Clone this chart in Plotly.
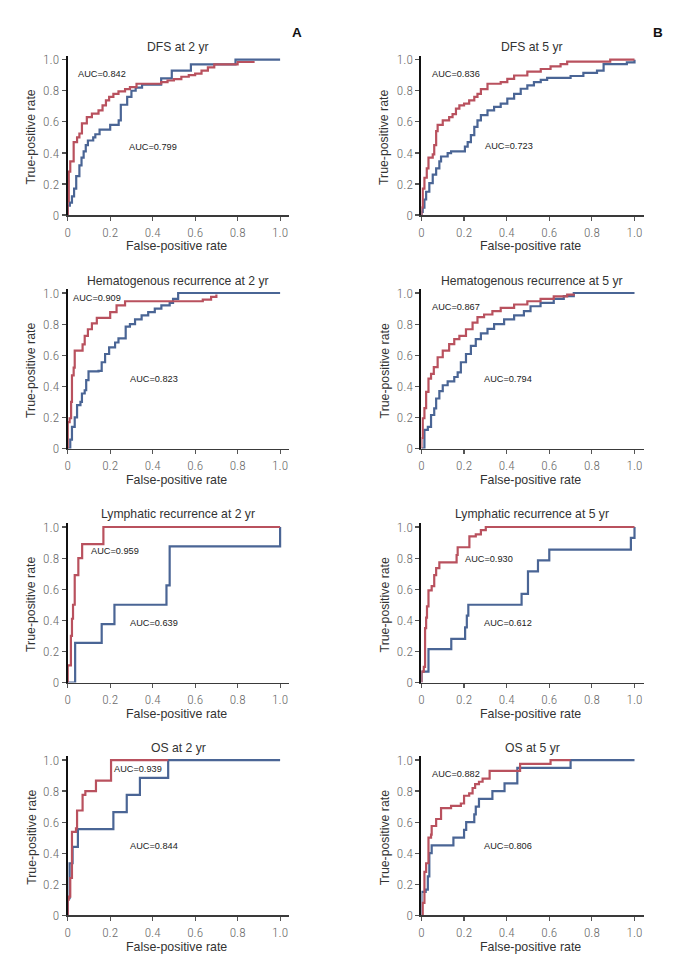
import plotly.graph_objects as go

# ---------------- data ----------------
tick_vals = [0, 0.2, 0.4, 0.6, 0.8, 1.0]
tick_text = ["0", "0.2", "0.4", "0.6", "0.8", "1.0"]

titles = ["DFS at 2 yr", "DFS at 5 yr",
          "Hematogenous recurrence at 2 yr", "Hematogenous recurrence at 5 yr",
          "Lymphatic recurrence at 2 yr", "Lymphatic recurrence at 5 yr",
          "OS at 2 yr", "OS at 5 yr"]

auc_red = ["AUC=0.842", "AUC=0.836", "AUC=0.909", "AUC=0.867",
           "AUC=0.959", "AUC=0.930", "AUC=0.939", "AUC=0.882"]
auc_blue = ["AUC=0.799", "AUC=0.723", "AUC=0.823", "AUC=0.794",
            "AUC=0.639", "AUC=0.612", "AUC=0.844", "AUC=0.806"]

# DFS 2 yr
dfs2_red_fpr = [0, 0, 0.005, 0.012, 0.028, 0.044, 0.055, 0.067, 0.09, 0.114, 0.145, 0.164, 0.18, 0.195,
                0.215, 0.239, 0.27, 0.293, 0.324, 0.44, 0.47, 0.5, 0.535, 0.57, 0.6, 0.63, 0.66, 0.69,
                0.8, 0.88]
dfs2_red_tpr = [0, 0.09, 0.28, 0.345, 0.47, 0.5, 0.525, 0.59, 0.63, 0.653, 0.674, 0.706, 0.738, 0.76,
                0.78, 0.796, 0.81, 0.823, 0.845, 0.855, 0.866, 0.875, 0.89, 0.9, 0.91, 0.93, 0.95, 0.97,
                0.985, 0.985]
dfs2_blue_fpr = [0, 0, 0.01, 0.02, 0.03, 0.04, 0.055, 0.065, 0.075, 0.085, 0.095, 0.12, 0.13, 0.15, 0.2,
                 0.24, 0.25, 0.28, 0.3, 0.32, 0.35, 0.44, 0.49, 0.58, 0.79, 1.0]
dfs2_blue_tpr = [0, 0.06, 0.08, 0.12, 0.17, 0.25, 0.32, 0.37, 0.41, 0.45, 0.48, 0.5, 0.52, 0.55, 0.58,
                 0.61, 0.71, 0.76, 0.8, 0.82, 0.84, 0.88, 0.93, 0.97, 1.0, 1.0]

# DFS 5 yr
dfs5_red_fpr = [0, 0, 0.006, 0.014, 0.025, 0.033, 0.053, 0.06, 0.069, 0.076, 0.1, 0.13, 0.146, 0.162,
                0.178, 0.2, 0.224, 0.248, 0.263, 0.279, 0.31, 0.372, 0.403, 0.435, 0.497, 0.56, 0.606,
                0.653, 0.684, 0.886, 1.0]
dfs5_red_tpr = [0, 0.05, 0.17, 0.24, 0.3, 0.37, 0.39, 0.45, 0.54, 0.58, 0.61, 0.63, 0.65, 0.685, 0.706,
                0.717, 0.738, 0.76, 0.78, 0.81, 0.845, 0.855, 0.877, 0.898, 0.923, 0.94, 0.957, 0.972,
                0.987, 1.0, 1.0]
dfs5_blue_fpr = [0, 0, 0.006, 0.014, 0.022, 0.037, 0.053, 0.069, 0.084, 0.092, 0.123, 0.139, 0.204,
                 0.217, 0.232, 0.248, 0.263, 0.279, 0.31, 0.341, 0.372, 0.403, 0.435, 0.466, 0.497,
                 0.528, 0.56, 0.59, 0.7, 0.76, 0.824, 0.855, 0.964, 1.0]
dfs5_blue_tpr = [0, 0.02, 0.047, 0.1, 0.15, 0.206, 0.26, 0.3, 0.345, 0.377, 0.398, 0.41, 0.44, 0.47,
                 0.515, 0.568, 0.61, 0.643, 0.674, 0.696, 0.717, 0.749, 0.78, 0.813, 0.834, 0.855,
                 0.87, 0.883, 0.895, 0.915, 0.93, 0.972, 0.983, 1.0]

# Hematogenous recurrence 2 yr
hem2_red_fpr = [0, 0, 0.009, 0.016, 0.02, 0.028, 0.033, 0.07, 0.08, 0.095, 0.114, 0.137, 0.2, 0.23,
                0.27, 0.636, 0.675, 0.7]
hem2_red_tpr = [0, 0.17, 0.195, 0.3, 0.47, 0.52, 0.63, 0.67, 0.725, 0.767, 0.805, 0.84, 0.877, 0.92,
                0.947, 0.958, 0.975, 0.99]
hem2_blue_fpr = [0, 0.005, 0.012, 0.02, 0.033, 0.044, 0.06, 0.067, 0.08, 0.087, 0.098, 0.145, 0.16,
                 0.176, 0.195, 0.223, 0.239, 0.273, 0.293, 0.317, 0.348, 0.379, 0.41, 0.441, 0.48,
                 0.496, 0.52, 1.0]
hem2_blue_tpr = [0, 0, 0.057, 0.14, 0.2, 0.28, 0.3, 0.354, 0.375, 0.44, 0.496, 0.5, 0.555, 0.608, 0.65,
                 0.682, 0.708, 0.784, 0.8, 0.83, 0.856, 0.877, 0.9, 0.92, 0.936, 0.962, 1.0, 1.0]

# Hematogenous recurrence 5 yr
hem5_red_fpr = [0, 0, 0.006, 0.014, 0.022, 0.033, 0.045, 0.058, 0.076, 0.1, 0.13, 0.154, 0.178, 0.209,
                0.24, 0.263, 0.294, 0.333, 0.372, 0.435, 0.497, 0.559, 0.621, 0.684, 0.715]
hem5_red_tpr = [0, 0.068, 0.195, 0.26, 0.364, 0.45, 0.48, 0.523, 0.587, 0.63, 0.672, 0.703, 0.725, 0.767,
                0.81, 0.845, 0.862, 0.883, 0.905, 0.926, 0.947, 0.962, 0.979, 0.99, 0.996]
hem5_blue_fpr = [0, 0.006, 0.014, 0.03, 0.045, 0.06, 0.069, 0.084, 0.1, 0.123, 0.154, 0.17, 0.185,
                 0.209, 0.232, 0.255, 0.279, 0.31, 0.341, 0.388, 0.435, 0.481, 0.512, 0.559, 0.621,
                 0.668, 0.715, 1.0]
hem5_blue_tpr = [0, 0, 0.12, 0.14, 0.216, 0.258, 0.322, 0.369, 0.407, 0.432, 0.46, 0.49, 0.555, 0.608,
                 0.66, 0.703, 0.74, 0.77, 0.8, 0.83, 0.856, 0.883, 0.915, 0.936, 0.962, 0.98, 1.0, 1.0]

# Lymphatic recurrence 2 yr
lym2_red_fpr = [0, 0, 0.015, 0.02, 0.025, 0.033, 0.05, 0.068, 0.168, 1.0]
lym2_red_tpr = [0, 0.11, 0.3, 0.41, 0.5, 0.69, 0.8, 0.89, 1.0, 1.0]
lym2_blue_fpr = [0, 0.035, 0.16, 0.22, 0.465, 0.48, 1.0]
lym2_blue_tpr = [0, 0.255, 0.375, 0.5, 0.625, 0.875, 1.0]

# Lymphatic recurrence 5 yr
lym5_red_fpr = [0, 0, 0.011, 0.017, 0.022, 0.026, 0.033, 0.048, 0.06, 0.069, 0.084, 0.165, 0.17, 0.225,
                0.255, 0.279, 0.302, 1.0]
lym5_red_tpr = [0, 0.07, 0.1, 0.35, 0.417, 0.49, 0.593, 0.62, 0.69, 0.735, 0.773, 0.82, 0.87, 0.94,
                0.953, 0.98, 1.0, 1.0]
lym5_blue_fpr = [0, 0, 0.033, 0.14, 0.205, 0.213, 0.22, 0.47, 0.5, 0.547, 0.6, 0.983, 1.0]
lym5_blue_tpr = [0, 0.07, 0.215, 0.28, 0.355, 0.43, 0.5, 0.57, 0.715, 0.785, 0.855, 0.93, 1.0]

# OS 2 yr
os2_red_fpr = [0, 0, 0.005, 0.012, 0.02, 0.039, 0.044, 0.07, 0.083, 0.133, 0.204, 0.473]
os2_red_tpr = [0, 0.1, 0.12, 0.24, 0.537, 0.56, 0.675, 0.775, 0.8, 0.867, 1.0, 1.0]
os2_blue_fpr = [0, 0, 0.009, 0.023, 0.048, 0.215, 0.278, 0.34, 0.473, 1.0]
os2_blue_tpr = [0, 0.11, 0.335, 0.44, 0.555, 0.665, 0.775, 0.885, 1.0, 1.0]

# OS 5 yr
os5_red_fpr = [0, 0.006, 0.014, 0.022, 0.033, 0.045, 0.048, 0.069, 0.092, 0.139, 0.185, 0.2, 0.224,
               0.24, 0.252, 0.27, 0.287, 0.32, 0.463, 0.606, 0.7]
os5_red_tpr = [0, 0.08, 0.28, 0.335, 0.5, 0.52, 0.575, 0.62, 0.69, 0.705, 0.72, 0.77, 0.785, 0.82,
               0.845, 0.86, 0.88, 0.93, 0.975, 1.0, 1.0]
os5_blue_fpr = [0, 0, 0.02, 0.03, 0.037, 0.048, 0.15, 0.2, 0.21, 0.248, 0.255, 0.27, 0.333, 0.39, 0.45,
                0.7, 1.0]
os5_blue_tpr = [0, 0.15, 0.165, 0.25, 0.4, 0.45, 0.5, 0.55, 0.6, 0.65, 0.7, 0.75, 0.8, 0.85, 0.95,
                1.0, 1.0]

red_series = [(dfs2_red_fpr, dfs2_red_tpr), (dfs5_red_fpr, dfs5_red_tpr),
              (hem2_red_fpr, hem2_red_tpr), (hem5_red_fpr, hem5_red_tpr),
              (lym2_red_fpr, lym2_red_tpr), (lym5_red_fpr, lym5_red_tpr),
              (os2_red_fpr, os2_red_tpr), (os5_red_fpr, os5_red_tpr)]
blue_series = [(dfs2_blue_fpr, dfs2_blue_tpr), (dfs5_blue_fpr, dfs5_blue_tpr),
               (hem2_blue_fpr, hem2_blue_tpr), (hem5_blue_fpr, hem5_blue_tpr),
               (lym2_blue_fpr, lym2_blue_tpr), (lym5_blue_fpr, lym5_blue_tpr),
               (os2_blue_fpr, os2_blue_tpr), (os5_blue_fpr, os5_blue_tpr)]

# ---------------- layout / style ----------------
W, H = 681, 970
RED = "#b9515e"
BLUE = "#4a6595"
NARROW = "Roboto Condensed, Liberation Sans Narrow, Arial Narrow, Liberation Sans, sans-serif"
REG = "Liberation Sans, Arial, sans-serif"

col_dom = [(65.0 / W, 287.5 / W), (420.3 / W, 643.5 / W)]
# (pixel of y=0, pixel of top of axis)
row_px = [(214.5, 53.4), (450.7, 289.4), (687.3, 526.1), (922.7, 761.8)]
title_px = [45, 281.5, 516.5, 753.5]
xtitle_px = [245.3, 482, 719, 954.5]
ytitle_x = [28.3, 383.3]

# AUC label positions (data coords) red, blue
auc_red_pos = [(0.16, 0.91), (0.16, 0.91), (0.137, 0.968), (0.162, 0.91),
               (0.223, 0.847), (0.318, 0.795), (0.33, 0.94), (0.162, 0.909)]
auc_blue_pos = [(0.40, 0.44), (0.41, 0.445), (0.405, 0.45), (0.408, 0.45),
                (0.405, 0.385), (0.408, 0.385), (0.405, 0.448), (0.408, 0.448)]

fig = go.Figure()
annotations = []
layout_axes = {}

for i in range(8):
    r, c = divmod(i, 2)
    n = i + 1
    xa = "x" if n == 1 else f"x{n}"
    ya = "y" if n == 1 else f"y{n}"
    y0px, ytop = row_px[r]
    ydom = ((H - y0px) / H, (H - ytop) / H)

    bx, by = blue_series[i]
    rx, ry = red_series[i]
    fig.add_trace(go.Scatter(x=bx, y=by, mode="lines", line=dict(color=BLUE, width=2.2, shape="hv"),
                             xaxis=xa, yaxis=ya, showlegend=False, cliponaxis=False,
                             hoverinfo="skip"))
    fig.add_trace(go.Scatter(x=rx, y=ry, mode="lines", line=dict(color=RED, width=2.2, shape="hv"),
                             xaxis=xa, yaxis=ya, showlegend=False, cliponaxis=False,
                             hoverinfo="skip"))

    common = dict(tickvals=tick_vals, ticktext=tick_text, showgrid=False, zeroline=False,
                  showline=True, ticks="outside", tickwidth=1.2, tickcolor="#555",
                  tickfont=dict(family=NARROW, size=13.2, color="#6a6a6a", weight=300),
                  fixedrange=True)
    layout_axes["xaxis" if n == 1 else f"xaxis{n}"] = dict(
        domain=list(col_dom[c]), range=[0, 1.043], anchor=ya, linecolor="#3a3a3a", linewidth=1.6,
        ticklen=4, **common)
    layout_axes["yaxis" if n == 1 else f"yaxis{n}"] = dict(
        domain=list(ydom), range=[0, 1.025], anchor=xa, linecolor="#111", linewidth=2,
        ticklen=4, **common)

    # panel title
    annotations.append(dict(text=titles[i], xref=xa, yref="paper", x=0.52, y=1 - title_px[r] / H,
                            showarrow=False, xanchor="center", yanchor="middle",
                            font=dict(family=REG, size=12.2, color="#333")))
    # x title
    annotations.append(dict(text="False-positive rate", xref=xa, yref="paper", x=0.51,
                            y=1 - xtitle_px[r] / H, showarrow=False, xanchor="center",
                            yanchor="middle", font=dict(family=REG, size=12.4, color="#333")))
    # y title
    annotations.append(dict(text="True-positive rate", xref="paper", yref=ya, x=ytitle_x[c] / W,
                            y=0.5, showarrow=False, xanchor="center", yanchor="middle",
                            textangle=-90, font=dict(family=REG, size=12.3, color="#333")))
    # AUC labels
    annotations.append(dict(text=auc_red[i], xref=xa, yref=ya, x=auc_red_pos[i][0], y=auc_red_pos[i][1],
                            showarrow=False, xanchor="center", yanchor="middle",
                            font=dict(family=REG, size=9.2, color="#222")))
    annotations.append(dict(text=auc_blue[i], xref=xa, yref=ya, x=auc_blue_pos[i][0],
                            y=auc_blue_pos[i][1], showarrow=False, xanchor="center",
                            yanchor="middle", font=dict(family=REG, size=9.2, color="#222")))

annotations.append(dict(text="<b>A</b>", xref="paper", yref="paper", x=295 / W, y=1 - 29.7 / H,
                        showarrow=False, xanchor="center", yanchor="middle",
                        font=dict(family=REG, size=13.5, color="#111")))
annotations.append(dict(text="<b>B</b>", xref="paper", yref="paper", x=657.5 / W, y=1 - 29.5 / H,
                        showarrow=False, xanchor="center", yanchor="middle",
                        font=dict(family=REG, size=13.5, color="#111")))

fig.update_layout(width=W, height=H, margin=dict(l=0, r=0, t=0, b=0),
                  paper_bgcolor="white", plot_bgcolor="white",
                  annotations=annotations, **layout_axes)

fig.write_html("out.html", config={"displayModeBar": False, "staticPlot": True},
               post_script="document.body.style.margin='0';document.body.style.padding='0';"
                           "document.documentElement.style.overflow='hidden';")
